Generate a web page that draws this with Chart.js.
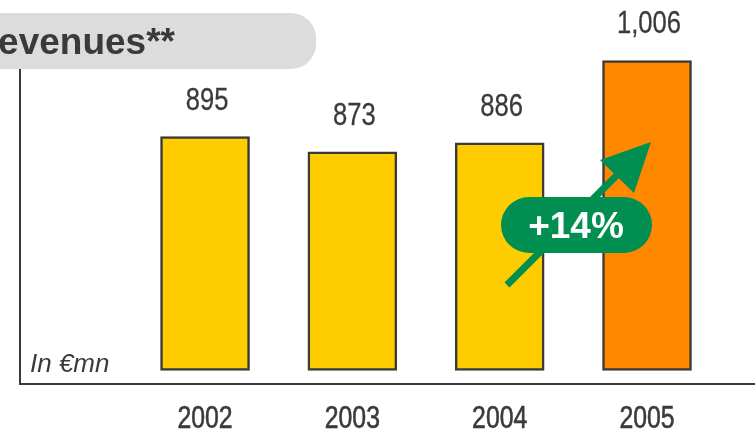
<!DOCTYPE html>
<html>
<head>
<meta charset="utf-8">
<style>
  html, body { margin: 0; padding: 0; background: #fff; }
  canvas { display: block; }
</style>
<script src="https://cdn.jsdelivr.net/npm/chart.js@4"></script>
</head>
<body>
<canvas id="chart" width="755" height="431"></canvas>
<script>
const years = [2002, 2003, 2004, 2005];
const revenues = [895, 873, 886, 1006];
const barColors = ['#ffcc00', '#ffcc00', '#ffcc00', '#ff8800'];

const INK = '#3a3a3a';
const SANS = '"Liberation Sans", Arial, sans-serif';

// No narrow face is available, so squeeze the regular one horizontally.
function narrowText(ctx, text, x, y, size, weight) {
    ctx.save();
    ctx.translate(x, y);
    ctx.scale(0.8, 1);
    ctx.font = size + 'px ' + SANS;
    ctx.fillText(text, 0, 0);
    ctx.lineWidth = weight;
    ctx.strokeStyle = INK;
    ctx.strokeText(text, 0, 0);
    ctx.restore();
}

// Value labels, year labels, header pill, unit note and growth arrow go on top of the bars.
const overlay = {
    id: 'overlay',
    afterDraw(chart) {
        const ctx = chart.ctx;
        const bars = chart.getDatasetMeta(0).data;
        const xScale = chart.scales.x;

        ctx.save();
        ctx.textBaseline = 'middle';
        ctx.textAlign = 'center';
        ctx.fillStyle = INK;
        bars.forEach((bar, i) => {
            narrowText(ctx, revenues[i].toLocaleString('en-US'), bar.x + 2, bar.y - 36, 32, 0.3);
        });
        years.forEach((y) => {
            narrowText(ctx, String(y), xScale.getPixelForValue(y), 419, 31, 0.6);
        });

        ctx.textAlign = 'left';
        ctx.font = 'italic 26px ' + SANS;
        ctx.fillText('In €mn', 30, 365);

        // Header pill runs off the left edge
        ctx.fillStyle = '#dcdcdc';
        ctx.beginPath();
        ctx.roundRect(-40, 13, 356, 56, 25);
        ctx.fill();
        ctx.fillStyle = INK;
        ctx.textAlign = 'right';
        ctx.font = 'bold 37px ' + SANS;
        ctx.fillText('Revenues**', 175, 44);

        // Growth arrow
        ctx.fillStyle = '#008f50';
        ctx.strokeStyle = '#008f50';
        ctx.lineWidth = 7;
        ctx.beginPath();
        ctx.moveTo(507, 285);
        ctx.lineTo(620, 172);
        ctx.stroke();
        ctx.beginPath();
        ctx.moveTo(651, 142);
        ctx.lineTo(600, 160);
        ctx.lineTo(634, 193);
        ctx.closePath();
        ctx.fill();

        ctx.beginPath();
        ctx.roundRect(501, 197, 151, 56, 28);
        ctx.fill();
        ctx.fillStyle = '#fff';
        ctx.textAlign = 'center';
        ctx.font = 'bold 37px ' + SANS;
        ctx.fillText('+14%', 576, 228);
        ctx.restore();
    }
};

new Chart(document.getElementById('chart'), {
    type: 'bar',
    data: {
        datasets: [{
            data: years.map((y, i) => ({ x: y, y: revenues[i] })),
            backgroundColor: barColors,
            borderColor: INK,
            borderWidth: 2.5,
            borderSkipped: false,
            barThickness: 89,
            base: 554
        }]
    },
    options: {
        responsive: false,
        animation: false,
        layout: { padding: { left: 20, right: 0, top: 40, bottom: 0 } },
        plugins: { legend: { display: false }, tooltip: { enabled: false } },
        scales: {
            x: {
                type: 'linear',
                offset: false,
                min: 2000.744,
                max: 2005.733,
                afterFit: (scale) => { scale.height = 47.5; },
                grid: { display: false },
                border: { display: true, color: INK, width: 2 },
                ticks: { display: false }
            },
            y: {
                min: 535,
                max: 1036,
                afterFit: (scale) => { scale.width = 0; },
                grid: { display: false },
                border: { display: true, color: INK, width: 2 },
                ticks: { display: false }
            }
        }
    },
    plugins: [overlay]
});
</script>
</body>
</html>
